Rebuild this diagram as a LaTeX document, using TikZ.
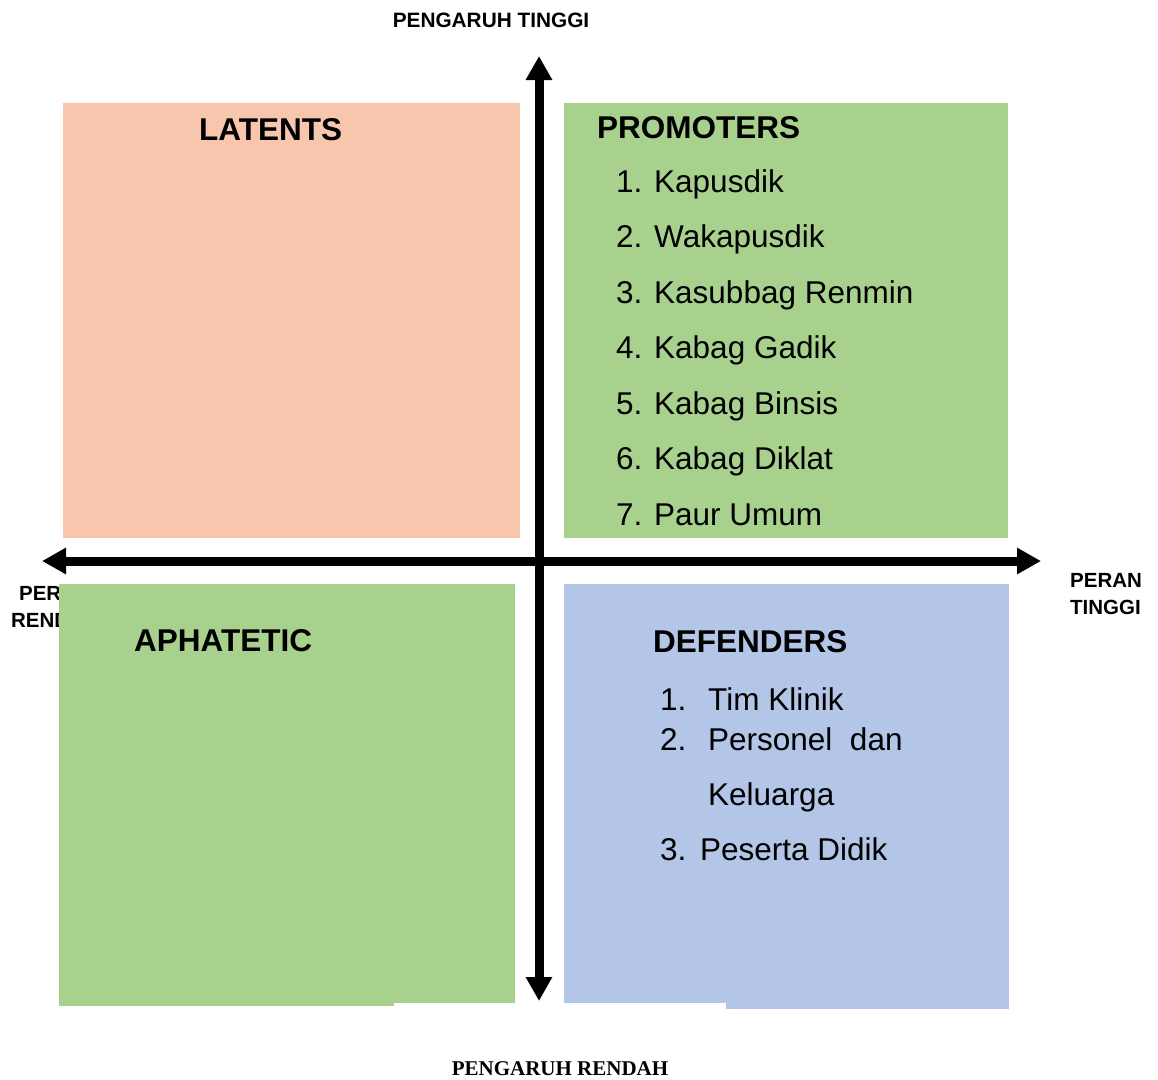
\documentclass[tikz,border=0pt]{standalone}
\usepackage{fontspec}
\setmainfont{Liberation Sans}
\newfontfamily\timesfont{Liberation Serif}
\usetikzlibrary{arrows.meta}
\definecolor{peach}{HTML}{F8C6AD}
\definecolor{lgreen}{HTML}{A9D18E}
\definecolor{lblue}{HTML}{B4C6E7}
\tikzset{
  quad/.style={inner sep=0pt, outer sep=0pt, anchor=north west},
  head/.style={font=\fontsize{31.5}{36}\selectfont\bfseries, anchor=base west, inner sep=0pt},
  item/.style={font=\fontsize{31.5}{36}\selectfont, anchor=base west, inner sep=0pt},
  axlab/.style={font=\fontsize{20.5}{27}\selectfont\bfseries, inner sep=0pt},
  axis/.style={line width=9pt, {Triangle[width=25pt,length=24pt]}-{Triangle[width=25pt,length=24pt]}}
}
\begin{document}
\begin{tikzpicture}[x=1pt,y=-1pt]
\useasboundingbox (0,0) rectangle (1158,1079);
% axis labels
\node[axlab, anchor=base, font=\fontsize{20.8}{27}\selectfont\bfseries] (top) at (491,27) {PENGARUH TINGGI};
\node[axlab, anchor=base, font=\fontsize{21}{24}\selectfont\bfseries\timesfont] (bot) at (560,1075) {PENGARUH RENDAH};
\node[axlab, anchor=base west, align=left] (rt) at (1070,614) {PERAN\\TINGGI};
\node[axlab, anchor=base, align=center] (lt) at (55,627) {PERAN\\RENDAH};
% quadrants
\node[quad, fill=peach, minimum width=457pt, minimum height=435pt] (latents) at (63,103) {};
\node[quad, fill=lgreen, minimum width=444pt, minimum height=435pt] (promoters) at (564,103) {};
\node[quad, fill=lgreen, minimum width=456pt, minimum height=419pt] (aphatetic) at (59,584) {};
\fill[lgreen] (59,1002) rectangle (394,1006);
\node[quad, fill=lblue, minimum width=445pt, minimum height=419pt] (defenders) at (564,584) {};
\fill[lblue] (726,1002) rectangle (1009,1009);
% axes
\coordinate (vtop) at (539,56);
\coordinate (vbot) at (539,1001);
\coordinate (hl) at (42,561);
\coordinate (hr) at (1041,561);
\draw[axis] (vbot) -- (vtop);
\draw[axis] (hl) -- (hr);
% headings
\node[head] (hlat) at (199,140) {LATENTS};
\node[head] (hpro) at (597,138) {PROMOTERS};
\node[head] (hapa) at (134,651) {APHATETIC};
\node[head] (hdef) at (653,652) {DEFENDERS};
% promoters list
\node[item] (p1) at (616,192) {\makebox[38pt][l]{1.}Kapusdik};
\node[item] (p2) at (616,247.5) {\makebox[38pt][l]{2.}Wakapusdik};
\node[item] (p3) at (616,303) {\makebox[38pt][l]{3.}Kasubbag Renmin};
\node[item] (p4) at (616,358.5) {\makebox[38pt][l]{4.}Kabag Gadik};
\node[item] (p5) at (616,414) {\makebox[38pt][l]{5.}Kabag Binsis};
\node[item] (p6) at (616,469.5) {\makebox[38pt][l]{6.}Kabag Diklat};
\node[item] (p7) at (616,525) {\makebox[38pt][l]{7.}Paur Umum};
% defenders list
\node[item] (d1) at (660,710) {\makebox[48pt][l]{1.}Tim Klinik};
\node[item] (d2) at (660,750) {\makebox[48pt][l]{2.}Personel\ \ dan};
\node[item] (d2b) at (708,805) {Keluarga};
\node[item] (d3) at (660,860) {\makebox[40pt][l]{3.}Peserta Didik};
\end{tikzpicture}
\end{document}
